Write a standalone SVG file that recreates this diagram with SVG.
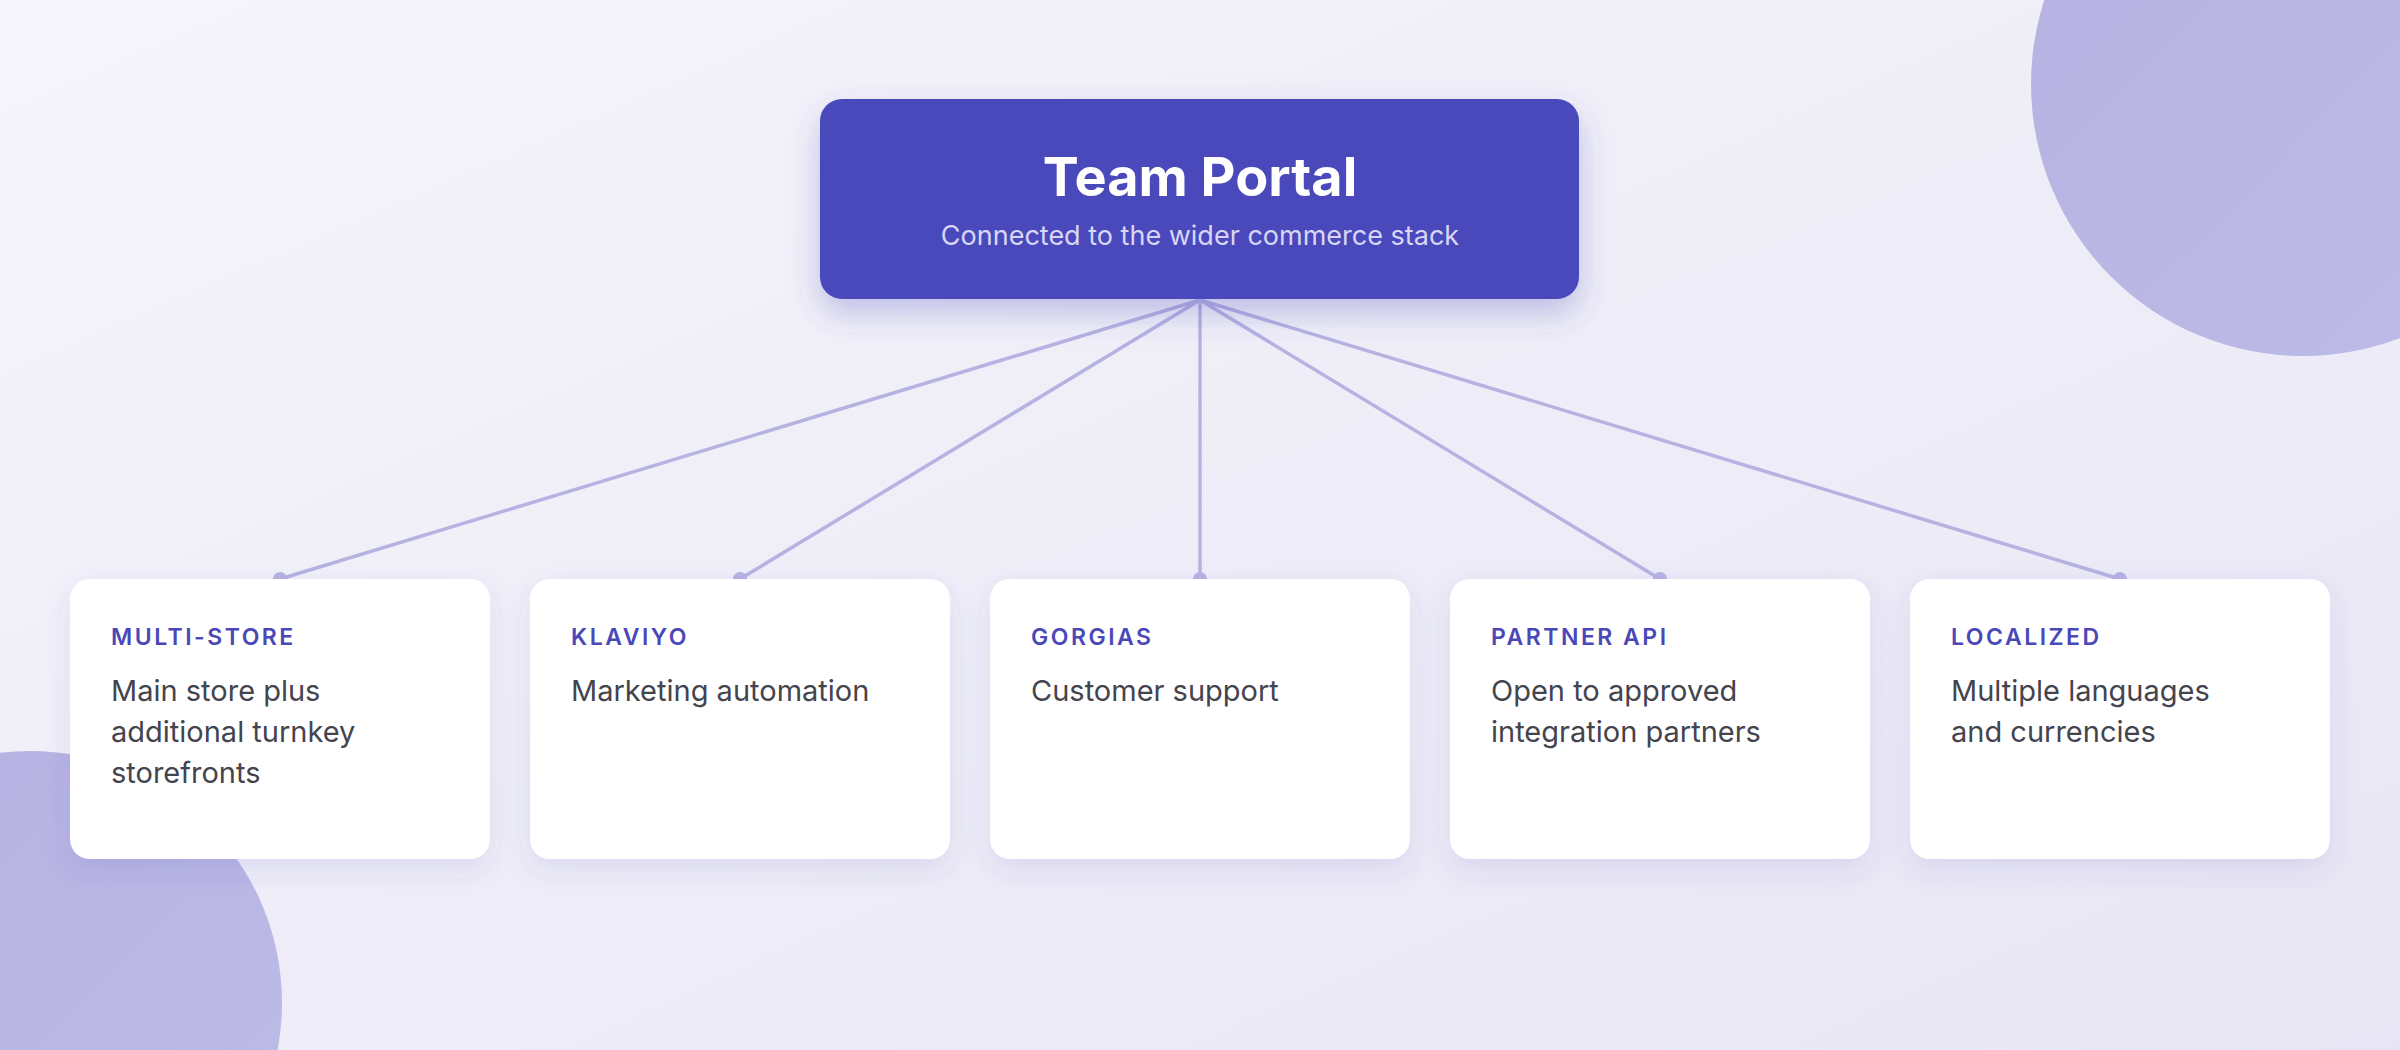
<svg xmlns="http://www.w3.org/2000/svg" width="2400" height="1050" viewBox="0 0 2400 1050">
<defs>
<linearGradient id="bg" x1="0" y1="0" x2="1" y2="1"><stop offset="0" stop-color="#f5f5fb"/><stop offset="1" stop-color="#e8e6f4"/></linearGradient>
<linearGradient id="circ" x1="0" y1="0" x2="1" y2="1"><stop offset="0" stop-color="#b5b2e2"/><stop offset="1" stop-color="#bdbbe6"/></linearGradient>
<filter id="sh" x="-20%" y="-20%" width="140%" height="160%"><feDropShadow dx="0" dy="10" stdDeviation="14" flood-color="#4a48b8" flood-opacity="0.12"/></filter>
<filter id="sh2" x="-20%" y="-30%" width="140%" height="180%"><feDropShadow dx="0" dy="14" stdDeviation="16" flood-color="#4a48b8" flood-opacity="0.3"/></filter>
</defs>
<style>
.card{fill:#fff;filter:url(#sh)}
.lbl{font-family:Inter,"Open Sans",sans-serif;font-size:23px;font-weight:600;fill:#4a48b8;letter-spacing:2.5px}
.body{font-family:Inter,"Open Sans",sans-serif;font-size:29px;fill:#44444e}
.ln{stroke:#b6b2e2;stroke-width:3.5;fill:none}
.dot{fill:#b6b2e2}
</style>
<rect width="2400" height="1050" fill="url(#bg)"/>
<circle cx="2303" cy="84" r="272" fill="url(#circ)"/>
<circle cx="30" cy="1003" r="252" fill="url(#circ)"/>
<g id="connectors">
<path class="ln" d="M1200 300L280 579M1200 300L740 579M1200 300L1200 579M1200 300L1660 579M1200 300L2120 579"/>
<circle class="dot" cx="280" cy="579" r="7"/><circle class="dot" cx="740" cy="579" r="7"/><circle class="dot" cx="1200" cy="579" r="7"/><circle class="dot" cx="1660" cy="579" r="7"/><circle class="dot" cx="2120" cy="579" r="7"/>
</g>
<g id="portal">
<rect x="820" y="99" width="759" height="200" rx="22" fill="#4a48bc" filter="url(#sh2)"/>
<text x="1200" y="196" text-anchor="middle" font-family="Inter,'Open Sans',sans-serif" font-size="54" font-weight="700" fill="#fff">Team Portal</text>
<text x="1200" y="245" text-anchor="middle" font-family="Inter,'Open Sans',sans-serif" font-size="27" fill="#d8d6f4">Connected to the wider commerce stack</text>
</g>
<g id="multistore"><rect class="card" x="70" y="579" width="420" height="280" rx="20"/><text class="lbl" x="111" y="645">MULTI-STORE</text><text class="body" x="111" y="701">Main store plus</text><text class="body" x="111" y="742">additional turnkey</text><text class="body" x="111" y="783">storefronts</text></g>
<g id="klaviyo"><rect class="card" x="530" y="579" width="420" height="280" rx="20"/><text class="lbl" x="571" y="645">KLAVIYO</text><text class="body" x="571" y="701">Marketing automation</text></g>
<g id="gorgias"><rect class="card" x="990" y="579" width="420" height="280" rx="20"/><text class="lbl" x="1031" y="645">GORGIAS</text><text class="body" x="1031" y="701">Customer support</text></g>
<g id="partner"><rect class="card" x="1450" y="579" width="420" height="280" rx="20"/><text class="lbl" x="1491" y="645">PARTNER API</text><text class="body" x="1491" y="701">Open to approved</text><text class="body" x="1491" y="742">integration partners</text></g>
<g id="localized"><rect class="card" x="1910" y="579" width="420" height="280" rx="20"/><text class="lbl" x="1951" y="645">LOCALIZED</text><text class="body" x="1951" y="701">Multiple languages</text><text class="body" x="1951" y="742">and currencies</text></g>
</svg>
